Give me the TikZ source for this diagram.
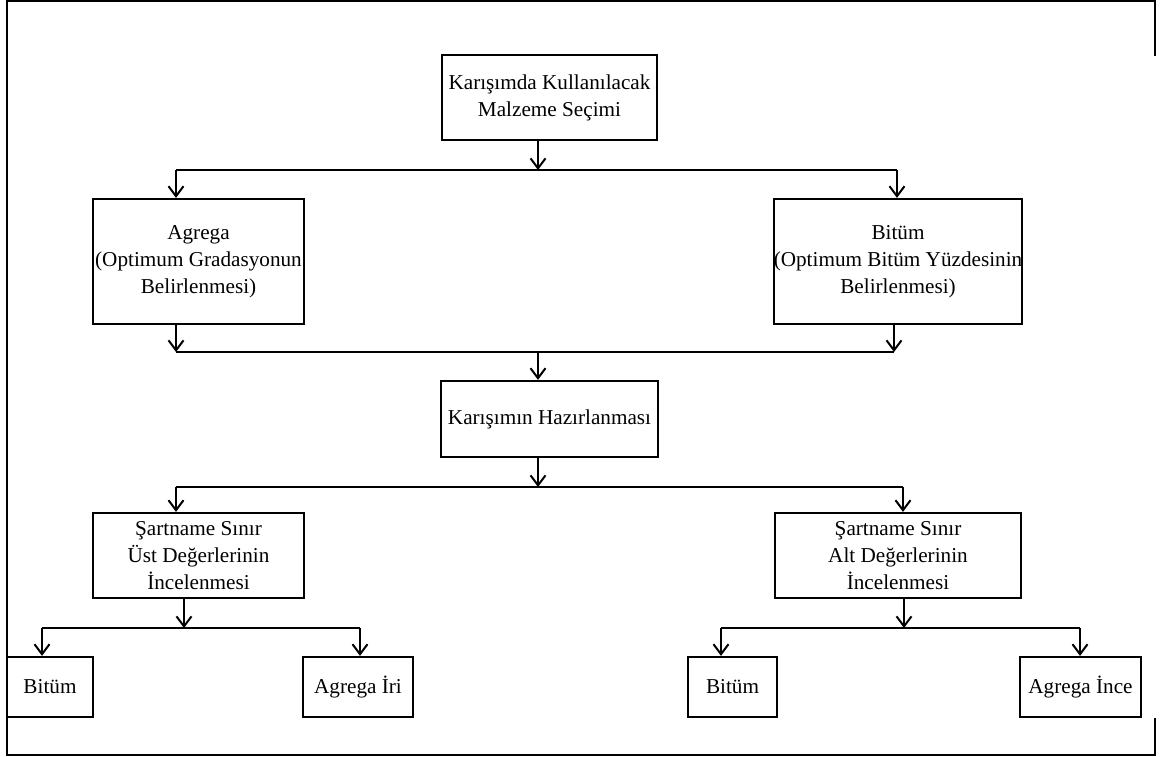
\documentclass[tikz,border=0pt]{standalone}
\usepackage{fontspec}
\setmainfont{Liberation Serif}
\usepackage{tikz}
\usetikzlibrary{arrows.meta,positioning}
\definecolor{inkc}{HTML}{000000}
\tikzset{
  ar/.style={-{Straight Barb[length=10pt,width=15pt]},line width=2pt,inkc},
  ln/.style={line width=2pt,inkc},
  box/.style={draw=inkc,line width=2.2pt,align=center,inner sep=0pt,
    font=\fontsize{21.2}{27}\selectfont},
  frame/.style={line width=2.4pt,inkc}
}
\begin{document}
\begin{tikzpicture}[x=1pt,y=-1pt]
\useasboundingbox (0,0) rectangle (1168,757);
\draw[frame] (1155,56)--(1155,1)--(7,1)--(7,755)--(1155,755)--(1155,718);
% boxes
\node[box,minimum width=215,minimum height=85] (sel) at (549.5,97.5) {Karışımda Kullanılacak\\Malzeme Seçimi};
\node[box,minimum width=211,minimum height=125] (agr) at (198.5,261.5) {Agrega\\(Optimum Gradasyonun\\Belirlenmesi)};
\node[box,minimum width=248,minimum height=125] (bit) at (898,261.5) {Bitüm\\(Optimum Bitüm Yüzdesinin\\Belirlenmesi)};
\node[box,minimum width=217,minimum height=76] (haz) at (549.5,419) {Karışımın Hazırlanması};
\node[box,minimum width=211,minimum height=85] (ust) at (198.5,555.5) {Şartname Sınır\\Üst Değerlerinin\\İncelenmesi};
\node[box,minimum width=246,minimum height=85] (alt) at (898,555.5) {Şartname Sınır\\Alt Değerlerinin\\İncelenmesi};
\node[box,minimum width=86,minimum height=60] (bitu) at (50,687) {Bitüm};
\node[box,minimum width=110,minimum height=60] (iri) at (358,687) {Agrega İri};
\node[box,minimum width=89,minimum height=60] (bita) at (732.5,687) {Bitüm};
\node[box,minimum width=121,minimum height=60] (ince) at (1080.5,687) {Agrega İnce};
% junctions
\coordinate (j1) at (538,170);
\coordinate (j1l) at (176,170);
\coordinate (j1r) at (897,170);
\coordinate (j2) at (538,352);
\coordinate (j2l) at (176,352);
\coordinate (j2r) at (894,352);
\coordinate (j3) at (538,487);
\coordinate (j3l) at (176,487);
\coordinate (j3r) at (903,487);
\coordinate (j4) at (184,628);
\coordinate (j4l) at (42,628);
\coordinate (j4r) at (360,628);
\coordinate (j5) at (904,628);
\coordinate (j5l) at (721,628);
\coordinate (j5r) at (1080,628);
% connectors
\draw[ar] (j1 |- sel.south) -- (j1);
\draw[ln] (j1l) -- (j1r);
\draw[ar] (j1l) -- (j1l |- agr.north);
\draw[ar] (j1r) -- (j1r |- bit.north);
\draw[ar] (j2l |- agr.south) -- (j2l);
\draw[ar] (j2r |- bit.south) -- (j2r);
\draw[ln] (j2l) -- (j2r);
\draw[ar] (j2) -- (j2 |- haz.north);
\draw[ar] (j3 |- haz.south) -- (j3);
\draw[ln] (j3l) -- (j3r);
\draw[ar] (j3l) -- (j3l |- ust.north);
\draw[ar] (j3r) -- (j3r |- alt.north);
\draw[ar] (j4 |- ust.south) -- (j4);
\draw[ln] (j4l) -- (j4r);
\draw[ar] (j4l) -- (j4l |- bitu.north);
\draw[ar] (j4r) -- (j4r |- iri.north);
\draw[ar] (j5 |- alt.south) -- (j5);
\draw[ln] (j5l) -- (j5r);
\draw[ar] (j5l) -- (j5l |- bita.north);
\draw[ar] (j5r) -- (j5r |- ince.north);
\end{tikzpicture}
\end{document}
